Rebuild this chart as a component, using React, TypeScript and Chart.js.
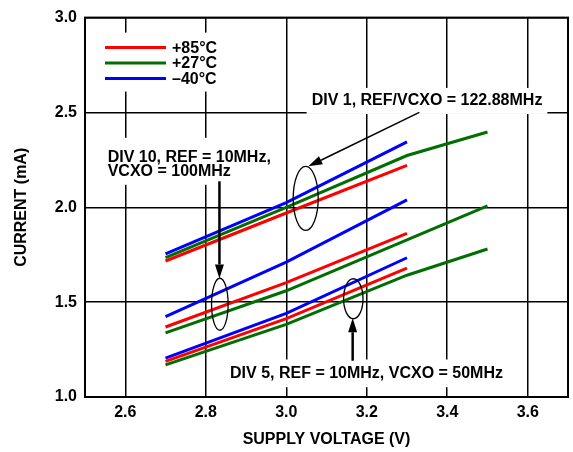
import { useEffect, useRef } from 'react';
import { Chart, registerables } from 'chart.js';

Chart.register(...registerables);

const FONT_FAMILY = '"Liberation Sans", Arial, Helvetica, sans-serif';

// ---- data ----
const voltages = [2.7, 3.0, 3.3];
const voltagesExt = [2.7, 3.0, 3.3, 3.5];
const temperatures = ['+85°C', '+27°C', '–40°C'];
const temperatureColors = ['#ff0000', '#006e00', '#0000ff'];

const div1Plus85 = [1.717, 1.97, 2.221];
const div1Plus27 = [1.735, 2.0, 2.273, 2.397];
const div1Minus40 = [1.754, 2.025, 2.345];

const div10Plus85 = [1.369, 1.603, 1.863];
const div10Plus27 = [1.338, 1.56, 1.828, 2.008];
const div10Minus40 = [1.424, 1.711, 2.039];

const div5Plus85 = [1.188, 1.413, 1.679];
const div5Plus27 = [1.169, 1.383, 1.642, 1.78];
const div5Minus40 = [1.205, 1.441, 1.734];

const xTickValues = [2.6, 2.8, 3.0, 3.2, 3.4, 3.6];
const yTickValues = [1.0, 1.5, 2.0, 2.5, 3.0];
const xTitle = 'SUPPLY VOLTAGE (V)';
const yTitle = 'CURRENT (mA)';

const series = [
  { temp: 0, xs: voltages, ys: div1Plus85 },
  { temp: 1, xs: voltagesExt, ys: div1Plus27 },
  { temp: 2, xs: voltages, ys: div1Minus40 },
  { temp: 0, xs: voltages, ys: div10Plus85 },
  { temp: 1, xs: voltagesExt, ys: div10Plus27 },
  { temp: 2, xs: voltages, ys: div10Minus40 },
  { temp: 0, xs: voltages, ys: div5Plus85 },
  { temp: 1, xs: voltagesExt, ys: div5Plus27 },
  { temp: 2, xs: voltages, ys: div5Minus40 },
];

// ---- annotations (data coordinates) ----
const noteLabels = [
  { lines: ['DIV 1, REF/VCXO = 122.88MHz'], x: 3.3497, y: 2.5607, align: 'center', top: 13, bottom: 13, left: 5, right: 5 },
  { lines: ['DIV 10, REF = 10MHz,', 'VCXO = 100MHz'], x: 2.5564, y: 2.2636, align: 'left', top: 19.5, bottom: 13.5, left: 8, right: 2 },
  { lines: ['DIV 5, REF = 10MHz, VCXO = 50MHz'], x: 3.1994, y: 1.1256, align: 'center', top: 13.7, bottom: 14, left: 4, right: 4 },
];
const noteArrows = [
  { from: [3.3306, 2.5], to: [3.0548, 2.216], width: 1.5 },
  { from: [2.834, 2.137], to: [2.834, 1.625], width: 2.5 },
  { from: [3.165, 1.191], to: [3.165, 1.415], width: 2.5 },
];
const noteEllipses = [
  { x: 3.0483, y: 2.0475, rx: 12.5, ry: 32 },
  { x: 2.835, y: 1.489, rx: 8.3, ry: 26 },
  { x: 3.1666, y: 1.518, rx: 9.7, ry: 20 },
];

const font = { family: FONT_FAMILY, size: 16, weight: 'bold' as const };
const fontCss = `bold 16px ${FONT_FAMILY}`;
const LINE_H = 14;

const notesPlugin = {
  id: 'notes',
  beforeDatasetsDraw(chart: any) {
    const { ctx, chartArea } = chart;
    const xs = chart.scales.x;
    const ys = chart.scales.y;
    ctx.save();
    ctx.font = fontCss;
    ctx.fillStyle = '#ffffff';
    // legend box
    ctx.fillRect(chartArea.left + 13, chartArea.top + 15, 134, 59);
    // label boxes
    noteLabels.forEach((n) => {
      const px = xs.getPixelForValue(n.x);
      const py = ys.getPixelForValue(n.y);
      const w = Math.max(...n.lines.map((l) => ctx.measureText(l).width));
      const x0 = n.align === 'center' ? px - w / 2 : px;
      const top = py - n.top;
      const bottom = py + (n.lines.length - 1) * LINE_H + n.bottom;
      ctx.fillRect(x0 - n.left, top, w + n.left + n.right, bottom - top);
    });
    ctx.restore();
  },
  afterDatasetsDraw(chart: any) {
    const { ctx, chartArea } = chart;
    const xs = chart.scales.x;
    const ys = chart.scales.y;
    ctx.save();
    // frame
    ctx.strokeStyle = '#000';
    ctx.lineWidth = 2;
    ctx.strokeRect(chartArea.left, chartArea.top, chartArea.right - chartArea.left, chartArea.bottom - chartArea.top);

    // legend
    ctx.font = fontCss;
    ctx.textBaseline = 'middle';
    ctx.textAlign = 'left';
    temperatures.forEach((t, i) => {
      const y = chartArea.top + 30 + i * 15.5;
      ctx.strokeStyle = temperatureColors[i];
      ctx.lineWidth = 3;
      ctx.beginPath();
      ctx.moveTo(chartArea.left + 20, y);
      ctx.lineTo(chartArea.left + 81, y);
      ctx.stroke();
      ctx.fillStyle = '#000';
      ctx.fillText(t, chartArea.left + 87, y + 0.5);
    });

    // labels
    noteLabels.forEach((n) => {
      const px = xs.getPixelForValue(n.x);
      const py = ys.getPixelForValue(n.y);
      ctx.textAlign = n.align as CanvasTextAlign;
      ctx.fillStyle = '#000';
      n.lines.forEach((l, i) => ctx.fillText(l, px, py + i * LINE_H));
    });

    // ellipses
    ctx.strokeStyle = '#000';
    ctx.lineWidth = 1.3;
    noteEllipses.forEach((e) => {
      ctx.beginPath();
      ctx.ellipse(xs.getPixelForValue(e.x), ys.getPixelForValue(e.y), e.rx, e.ry, 0, 0, Math.PI * 2);
      ctx.stroke();
    });

    // arrows
    noteArrows.forEach((a) => {
      const x1 = xs.getPixelForValue(a.from[0]);
      const y1 = ys.getPixelForValue(a.from[1]);
      const x2 = xs.getPixelForValue(a.to[0]);
      const y2 = ys.getPixelForValue(a.to[1]);
      const ang = Math.atan2(y2 - y1, x2 - x1);
      const L = 14;
      const H = 4.5;
      const bx = x2 - L * Math.cos(ang);
      const by = y2 - L * Math.sin(ang);
      ctx.lineWidth = a.width;
      ctx.strokeStyle = '#000';
      ctx.beginPath();
      ctx.moveTo(x1, y1);
      ctx.lineTo(bx, by);
      ctx.stroke();
      ctx.fillStyle = '#000';
      ctx.beginPath();
      ctx.moveTo(x2, y2);
      ctx.lineTo(bx + H * Math.sin(ang), by - H * Math.cos(ang));
      ctx.lineTo(bx - H * Math.sin(ang), by + H * Math.cos(ang));
      ctx.closePath();
      ctx.fill();
    });
    ctx.restore();
  },
};

export default function App() {
  const ref = useRef<HTMLCanvasElement>(null);
  useEffect(() => {
    const canvas = ref.current;
    if (!canvas) return;
    const datasets = series.map((s) => ({
      data: s.xs.map((x, i) => ({ x, y: s.ys[i] })),
      showLine: true,
      borderColor: temperatureColors[s.temp],
      backgroundColor: temperatureColors[s.temp],
      borderWidth: 3,
      pointRadius: 0,
      fill: false,
      tension: 0,
    }));
    const chart = new Chart(canvas, {
      type: 'scatter',
      data: { datasets },
      options: {
        animation: false,
        responsive: false,
        layout: { padding: { top: 10, right: 5, left: 0, bottom: 0 } },
        plugins: { legend: { display: false }, tooltip: { enabled: false } },
        scales: {
          x: {
            type: 'linear',
            min: 2.5,
            max: 3.7,
            afterBuildTicks: (scale: any) => {
              scale.ticks = xTickValues.map((v) => ({ value: v }));
            },
            afterFit: (scale: any) => {
              scale.height = 55;
            },
            grid: { color: '#000', lineWidth: 1.5, drawTicks: false },
            border: { display: false },
            ticks: {
              padding: 6,
              color: '#000',
              font,
              autoSkip: false,
              maxRotation: 0,
              callback: (v: any) => Number(v).toFixed(1),
            },
            title: { display: true, text: xTitle, color: '#000', font, padding: { top: 0, bottom: 3 } },
          },
          y: {
            type: 'linear',
            min: 1,
            max: 3,
            afterBuildTicks: (scale: any) => {
              scale.ticks = yTickValues.map((v) => ({ value: v }));
            },
            afterFit: (scale: any) => {
              scale.width = 85;
            },
            grid: { color: '#000', lineWidth: 1.5, drawTicks: false },
            border: { display: false },
            ticks: {
              padding: 8,
              color: '#000',
              font,
              autoSkip: false,
              callback: (v: any) => Number(v).toFixed(1),
            },
            title: { display: true, text: yTitle, color: '#000', font, padding: { top: 12, bottom: 0 } },
          },
        },
      },
      plugins: [notesPlugin],
    } as any);
    return () => chart.destroy();
  }, []);
  return (
    <div style={{ position: 'fixed', left: 0, top: 0, width: 573, height: 452, background: '#fff' }}>
      <canvas ref={ref} width={573} height={452} style={{ width: 573, height: 452, display: 'block' }} />
    </div>
  );
}
